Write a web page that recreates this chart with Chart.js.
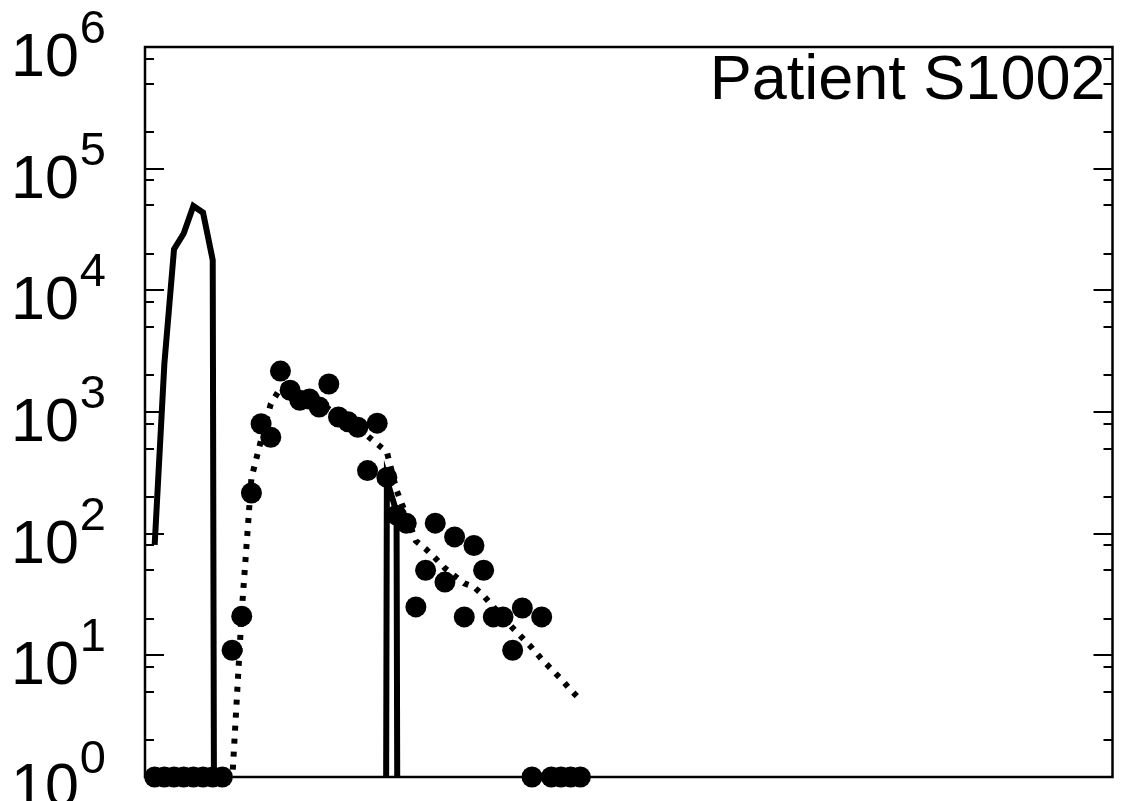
<!DOCTYPE html>
<html>
<head>
<meta charset="utf-8">
<script src="https://cdn.jsdelivr.net/npm/chart.js@4/dist/chart.umd.min.js"></script>
<style>
  html, body { margin: 0; padding: 0; background: #fff; }
  #wrap { width: 1123px; height: 801px; }
</style>
</head>
<body>
<div id="wrap"><canvas id="chart" width="1123" height="801"></canvas></div>
<script>
// --- data (x = day, y = copies, log scale) ---
const solidDays   = [1, 2, 3, 4, 5, 6, 7, 8, 24, 25, 26, 27];
const solidValues = [81, 2480, 21800, 29300, 49300, 43500, 17700, 0, 0, 276, 150, 0];

const fitDays   = [9, 10, 11, 12, 13, 14, 15, 16, 17, 18, 19, 20, 21, 22, 23, 24, 25, 26, 27,
                   28, 29, 30, 31, 32, 33, 34, 35, 36, 37, 38, 39, 40, 41, 42, 43, 44, 45];
const fitValues = [0.9, 23, 287, 589, 1164, 1575, 1765, 1517, 1352, 1185, 1058, 927, 828, 725, 635, 546, 469, 228, 142,
                   87, 75, 63, 52, 45, 39, 36.5, 30.8, 25, 20.7, 16.8, 13.9, 11.5, 9.3, 7.7, 6.4, 5.2, 4.3];

const dotDays   = [1, 2, 3, 4, 5, 6, 7, 8, 9, 10, 11, 12, 13, 14, 15, 16, 17, 18, 19, 20, 21, 22, 23,
                   24, 25, 26, 27, 28, 29, 30, 31, 32, 33, 34, 35, 36, 37, 38, 39, 40, 41, 42, 43, 44, 45];
const dotValues = [0, 0, 0, 0, 0, 0, 0, 0, 11, 21, 216, 800, 620, 2170, 1510, 1250, 1280, 1100, 1700, 910, 830, 750, 330,
                   810, 290, 142, 122, 25, 50, 122, 40, 94, 20.7, 80, 50, 20.7, 20.7, 11, 24.5, 0, 20.7, 0, 0, 0, 0];

const yMajor = [1, 10, 100, 1000, 10000, 100000, 1000000];
const yExponents = ['0', '1', '2', '3', '4', '5', '6'];
const yMinorFactors = [2, 5, 8];
const titleText = 'Patient S1002';

// zeros can't sit on a log axis: the line drops out of the frame, the dots sit on the floor
const toPoints = (xs, ys, zeroAs) => xs.map((x, i) => ({ x: x, y: ys[i] > 0 ? ys[i] : zeroAs }));

const FONT = '"Liberation Sans", Arial, sans-serif';

const frameAndTicks = {
    id: 'frameAndTicks',
    beforeDatasetsDraw(chart) {
        const { ctx, chartArea: a, scales: { y } } = chart;
        ctx.save();
        ctx.strokeStyle = '#000';
        ctx.lineWidth = 2.5;
        ctx.strokeRect(a.left, a.top, a.right - a.left, a.bottom - a.top);

        ctx.lineWidth = 2;
        const tick = (v, len) => {
            const py = Math.round(y.getPixelForValue(v));
            ctx.beginPath();
            ctx.moveTo(a.left, py); ctx.lineTo(a.left + len, py);
            ctx.moveTo(a.right, py); ctx.lineTo(a.right - len, py);
            ctx.stroke();
        };
        yMajor.forEach((v, i) => {
            tick(v, 19);
            if (i < yMajor.length - 1) yMinorFactors.forEach(f => tick(v * f, 9));
        });
        ctx.restore();
    },
    afterDraw(chart) {
        const { ctx, chartArea: a, scales: { y } } = chart;
        ctx.save();
        ctx.fillStyle = '#000';
        ctx.textAlign = 'left';
        ctx.textBaseline = 'alphabetic';
        yMajor.forEach((v, i) => {
            const py = y.getPixelForValue(v);
            ctx.font = '61px ' + FONT;
            ctx.fillText('10', 11, py + 29);
            const w = ctx.measureText('10').width;
            ctx.font = '47px ' + FONT;
            ctx.fillText(yExponents[i], 11 + w + 1, py - 4);
        });
        ctx.font = '63px ' + FONT;
        ctx.textAlign = 'right';
        ctx.fillText(titleText, a.right - 7, a.top + 52);
        ctx.restore();
    }
};

new Chart(document.getElementById('chart').getContext('2d'), {
    type: 'line',
    data: {
        datasets: [
            {
                label: 'solid',
                data: toPoints(solidDays, solidValues, 1e-30),
                borderColor: '#000',
                borderWidth: 6,
                borderJoinStyle: 'miter',
                borderCapStyle: 'butt',
                pointRadius: 0,
                tension: 0,
                fill: false
            },
            {
                label: 'fit',
                data: toPoints(fitDays, fitValues, 1e-30),
                borderColor: '#000',
                borderWidth: 6,
                borderDash: [5, 8],
                borderCapStyle: 'butt',
                pointRadius: 0,
                tension: 0,
                fill: false
            },
            {
                label: 'dots',
                data: toPoints(dotDays, dotValues, 1),
                showLine: false,
                pointRadius: 10.5,
                pointBackgroundColor: '#000',
                pointBorderWidth: 0,
                clip: false
            }
        ]
    },
    options: {
        responsive: false,
        animation: false,
        devicePixelRatio: 1,
        layout: { padding: { left: 145, top: 47, right: 8, bottom: 24 } },
        plugins: { legend: { display: false }, tooltip: { enabled: false } },
        scales: {
            x: { type: 'linear', min: 0, max: 100, display: false },
            y: { type: 'logarithmic', min: 1, max: 1000000, display: false }
        }
    },
    plugins: [frameAndTicks]
});
</script>
</body>
</html>
